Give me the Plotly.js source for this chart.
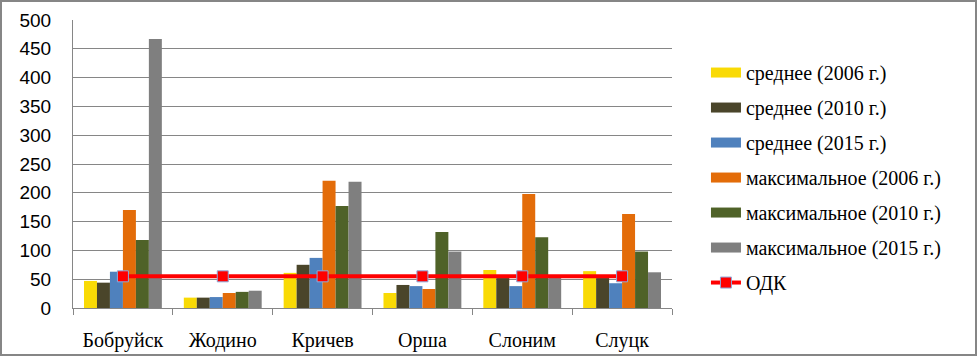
<!DOCTYPE html>
<html>
<head>
<meta charset="utf-8">
<script src="https://cdn.plot.ly/plotly-3.0.1.min.js"></script>
<style>
  html, body { margin: 0; padding: 0; background: #fff; }
  #wrap { width: 977px; height: 356px; box-sizing: border-box; border: 2px solid #868686; }
  #chart { width: 973px; height: 352px; }
</style>
</head>
<body>
<div id="wrap"><div id="chart"></div></div>
<script>
const cities = ["Бобруйск", "Жодино", "Кричев", "Орша", "Слоним", "Слуцк"];
const seriesNames = ["среднее (2006 г.)", "среднее (2010 г.)", "среднее (2015 г.)",
  "максимальное (2006 г.)", "максимальное (2010 г.)", "максимальное (2015 г.)"];
const avg2006 = [47, 18, 61, 26, 66, 64];
const avg2010 = [44, 18, 75, 40, 52, 52];
const avg2015 = [63, 19, 87, 38, 38, 43];
const max2006 = [170, 26, 221, 33, 198, 163];
const max2010 = [118, 28, 177, 132, 123, 98];
const max2015 = [467, 30, 219, 98, 52, 62];
const odkName = "ОДК";
const odk = [55, 55, 55, 55, 55, 55];
const yTicks = [0, 50, 100, 150, 200, 250, 300, 350, 400, 450, 500];

const colors = ["#F9DA05", "#4A452A", "#4F81BD", "#E36C09", "#4F6228", "#7F7F7F"];
const seriesVals = [avg2006, avg2010, avg2015, max2006, max2010, max2015];
const serif = "'Liberation Serif', 'Times New Roman', serif";
const sans = "'Liberation Sans', Arial, sans-serif";

const traces = [];
seriesVals.forEach((vals, i) => {
  traces.push({
    type: "bar", x: cities, y: vals, name: seriesNames[i],
    marker: {color: colors[i], line: {width: 0}},
    showlegend: false
  });
});
traces.push({
  type: "scatter", mode: "lines+markers", x: cities, y: odk, name: odkName,
  line: {color: "#FF0000", width: 4},
  marker: {symbol: "square", size: 11, color: "#FF0000", line: {color: "#8EA9DB", width: 1}},
  showlegend: false
});
// legend entries
seriesNames.forEach((n, i) => {
  traces.push({
    type: "scatter", mode: "lines", x: [null], y: [null], name: n,
    line: {color: colors[i], width: 10}, legendgroup: "g" + i, showlegend: true
  });
});
traces.push({
  type: "scatter", mode: "lines+markers", x: [null], y: [null], name: odkName,
  line: {color: "#FF0000", width: 4},
  marker: {symbol: "square", size: 11, color: "#FF0000", line: {color: "#8EA9DB", width: 1}},
  legendgroup: "g6", showlegend: true
});

const layout = {
  width: 973, height: 352,
  margin: {l: 71, r: 303, t: 18, b: 46},
  paper_bgcolor: "#fff", plot_bgcolor: "#fff",
  barmode: "group", bargap: 0.22, bargroupgap: 0,
  showlegend: true,
  legend: {
    xref: "container", yref: "container",
    x: 0.7235, y: 0.855, xanchor: "left", yanchor: "top",
    traceorder: "grouped", tracegroupgap: 6, maxheight: 340,
    font: {family: serif, size: 20, color: "#000"},
    bgcolor: "rgba(0,0,0,0)"
  },
  xaxis: {
    type: "category", showgrid: false, zeroline: false,
    showline: true, linecolor: "#868686", linewidth: 1,
    ticks: "outside", tickson: "boundaries", ticklen: 6, tickcolor: "#868686",
    ticklabelstandoff: 14,
    tickfont: {family: serif, size: 20, color: "#000"}
  },
  yaxis: {
    range: [0, 500], tickmode: "array", tickvals: yTicks, ticktext: yTicks.map(String),
    showgrid: true, gridcolor: "#868686", gridwidth: 1, zeroline: false,
    showline: true, linecolor: "#868686", linewidth: 1,
    ticks: "", ticklabelstandoff: 17,
    tickfont: {family: sans, size: 19, color: "#000"}
  }
};

Plotly.newPlot("chart", traces, layout, {displayModeBar: false, staticPlot: true});
</script>
</body>
</html>
